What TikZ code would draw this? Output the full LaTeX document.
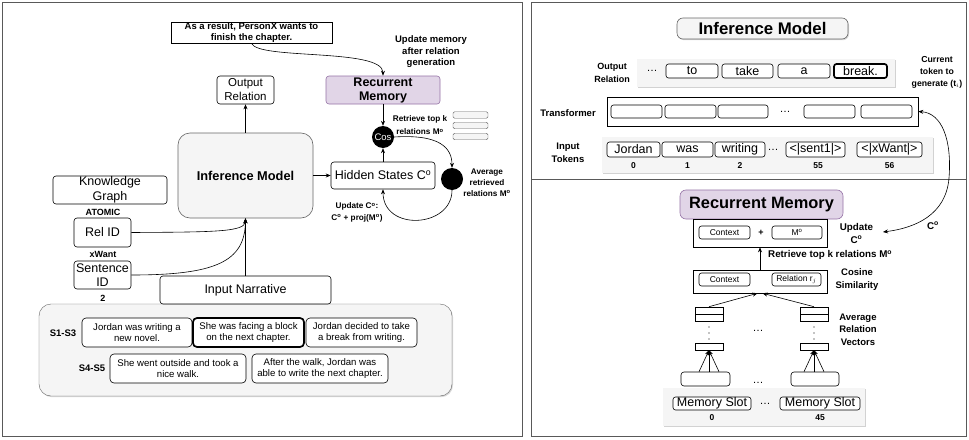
\documentclass[tikz,border=0pt]{standalone}
\usepackage{fontspec}
\setmainfont{Liberation Sans}
\usetikzlibrary{arrows.meta,shadows,calc}
\definecolor{lgray}{HTML}{F5F5F5}
\definecolor{dgray}{HTML}{666666}
\definecolor{purpfill}{HTML}{E1D5E7}
\definecolor{purpdraw}{HTML}{9673A6}
\newcommand{\supo}{\textsuperscript{o}}
\begin{document}
\begin{tikzpicture}[x=1pt,y=-1pt,
  >={Stealth[length=5pt,width=4pt]},
  frame/.style={draw=black!65, line width=0.9pt, drop shadow={shadow xshift=1pt,shadow yshift=-1pt,opacity=0.3}},
  rbox/.style={draw, fill=white, rounded corners=3pt, inner sep=0pt, align=center, line width=0.6pt},
  sbox/.style={draw, fill=white, inner sep=0pt, align=center, line width=0.6pt},
  tbox/.style={rbox, rounded corners=2.5pt, font=\fontsize{12.5}{13}\selectfont},
  ibox/.style={rbox, rounded corners=2.5pt, font=\fontsize{8.5}{10}\selectfont},
  band/.style={fill=lgray, draw=none, inner sep=0pt, drop shadow={shadow xshift=1pt,shadow yshift=-1.2pt,opacity=0.35}},
  lab/.style={font=\bfseries\fontsize{8}{10.5}\selectfont, align=center, inner sep=0pt},
  rlab/.style={font=\bfseries\fontsize{9.5}{12.5}\selectfont, align=center, inner sep=0pt},
  big/.style={font=\fontsize{12.5}{14.5}\selectfont},
  sent/.style={rbox, rounded corners=4pt, font=\fontsize{9.6}{11.3}\selectfont},
  conn/.style={->, line width=0.6pt},
  blob/.style={circle, fill=black, minimum size=22pt, inner sep=0pt},
  barr/.style={draw=dgray, fill=lgray, rounded corners=1.5pt, minimum width=35pt, minimum height=6.5pt, inner sep=0pt},
  cell/.style={draw, fill=white, minimum width=28pt, minimum height=7pt, inner sep=0pt, line width=0.6pt},
]
\useasboundingbox (0,0) rectangle (969,439);
\fill[white] (0,0) rectangle (969,439);

% ================= LEFT PANEL =================
\draw[frame, fill=white] (2,2) rectangle (522,436);

\node[fill=lgray, draw=dgray, rounded corners=12pt, minimum width=413pt, minimum height=92pt,
      drop shadow={shadow xshift=1pt,shadow yshift=-1.2pt,opacity=0.3}] (cont) at (245.5,350) {};

\node[sbox, minimum width=161pt, minimum height=21pt, font=\bfseries\fontsize{9.5}{11}\selectfont] (res) at (251.5,32.5) {As a result, PersonX wants to\\finish the chapter.};
\node[lab, font=\bfseries\fontsize{9.5}{11.5}\selectfont] (updmem) at (431,52) {Update memory\\after relation\\generation};
\node[rbox, fill=purpfill, draw=purpdraw, minimum width=114pt, minimum height=28pt, font=\bfseries\fontsize{12.5}{14}\selectfont] (memL) at (383,90) {Recurrent\\Memory};
\node[rbox, minimum width=57pt, minimum height=28pt, font=\fontsize{11.5}{14}\selectfont] (outrel) at (245.5,90) {Output\\Relation};
\node[rbox, fill=lgray, draw=dgray, rounded corners=12pt, minimum width=135pt, minimum height=85pt, font=\bfseries\fontsize{12.8}{14}\selectfont] (infL) at (245.5,175.5) {Inference Model};
\node[rbox, big, minimum width=104pt, minimum height=27pt] (hid) at (383,175.5) {Hidden States C\supo};
\node[blob, text=white, font=\fontsize{9.5}{11}\selectfont] (cos) at (383,137) {Cos};
\node[blob] (avg) at (452,179) {};
\node[barr] (bar1) at (470.5,115) {};
\node[barr] (bar2) at (470.5,125.5) {};
\node[barr] (bar3) at (470.5,136.5) {};
\node[lab, font=\bfseries\fontsize{8.2}{13}\selectfont] (rtk) at (420,125.5) {Retrieve top k\\relations M\supo};
\node[lab, font=\bfseries\fontsize{8.2}{11}\selectfont] (avglab) at (487,183) {Average\\retrieved\\relations M\supo};
\node[lab, font=\bfseries\fontsize{8.2}{11.5}\selectfont] (updc) at (357,212.5) {Update C\supo:\\C\supo{} + proj(M\supo)};

\node[rbox, big, minimum width=114pt, minimum height=28pt] (kg) at (110,190) {Knowledge\\Graph};
\node[lab, font=\bfseries\fontsize{9}{11}\selectfont] (atomic) at (103,212) {ATOMIC};
\node[rbox, big, minimum width=57pt, minimum height=29pt] (relid) at (102.5,232.5) {Rel ID};
\node[lab, font=\bfseries\fontsize{9}{11}\selectfont] (xwant) at (103,254) {xWant};
\node[rbox, big, minimum width=57pt, minimum height=28pt] (sentid) at (102.5,275) {Sentence\\ID};
\node[lab, font=\bfseries\fontsize{9}{11}\selectfont] (two) at (103,298) {2};
\node[rbox, big, minimum width=171pt, minimum height=28pt] (inpn) at (245.5,290) {Input Narrative};

\node[lab, font=\bfseries\fontsize{9.5}{11}\selectfont] (s13) at (63,333) {S1-S3};
\node[lab, font=\bfseries\fontsize{9.5}{11}\selectfont] (s45) at (92,368) {S4-S5};
\node[sent, minimum width=110pt, minimum height=29pt] (sa) at (137,332.5) {Jordan was writing a\\new novel.};
\node[sent, minimum width=111pt, minimum height=29pt, line width=1.7pt] (sb) at (248.5,332.5) {She was facing a block\\on the next chapter.};
\node[sent, minimum width=111pt, minimum height=29pt] (sc) at (361.5,332.5) {Jordan decided to take\\a break from writing.};
\node[sent, minimum width=136pt, minimum height=29pt] (sd) at (178,368.5) {She went outside and took a\\nice walk.};
\node[sent, minimum width=136pt, minimum height=29pt] (se) at (320,368.5) {After the walk, Jordan was\\able to write the next chapter.};

\draw[conn] (res.south) .. controls (258,60) and (383,48) .. (memL.north);
\draw[conn] (infL.north) -- (outrel.south);
\draw[conn] (infL.east) -- (hid.west);
\draw[conn] (memL.south) -- (cos.north);
\draw[conn] (hid.north) -- (cos.south);
\draw[conn] (cos.east) .. controls (440,134) and (452,148) .. (avg.north);
\draw[conn] (avg.south) .. controls (452,228) and (383,232) .. (hid.south);
\draw[conn] (relid.east) .. controls (215,232) and (245,232) .. (infL.south);
\draw[conn] (sentid.east) .. controls (215,275) and (245,262) .. (infL.south);
\draw[conn] (inpn.north) -- (infL.south);

% ================= RIGHT PANEL =================
\draw[frame, fill=white] (531,2) rectangle (966,436);
\draw[draw=black!65, line width=0.9pt] (531,179) -- (966,179);

\node[rbox, fill=lgray, draw=dgray, rounded corners=6pt, minimum width=171pt, minimum height=21pt,
      font=\bfseries\fontsize{16.8}{18}\selectfont, drop shadow={shadow xshift=1pt,shadow yshift=-1.2pt,opacity=0.3}] (infR) at (762.5,28.5) {Inference Model};

\node[band, minimum width=258pt, minimum height=28pt] (outband) at (766,73) {};
\node[rlab, font=\bfseries\fontsize{9}{13}\selectfont] (outlab) at (612,73) {Output\\Relation};
\node[font=\fontsize{11}{13}\selectfont, inner sep=0pt] (d1) at (652,71) {\dots};
\node[tbox, minimum width=52pt, minimum height=14pt] (to) at (692,71) {to};
\node[tbox, minimum width=51pt, minimum height=14pt] (take) at (747.5,71) {take};
\node[tbox, minimum width=52pt, minimum height=14pt] (a) at (804,71) {a};
\node[tbox, minimum width=53pt, minimum height=14pt, line width=1.7pt] (brk) at (860.5,71) {break.};
\node[rlab, font=\bfseries\fontsize{8.7}{12}\selectfont] (cur) at (937,72) {Current\\token to\\generate (t$_i$)};

\node[sbox, minimum width=311pt, minimum height=29pt] (trans) at (762.5,111.5) {};
\node[rlab] (translab) at (568,113) {Transformer};
\node[ibox, minimum width=51pt, minimum height=13pt] (h1) at (636.5,111.5) {};
\node[ibox, minimum width=51pt, minimum height=13pt] (h2) at (690.5,111.5) {};
\node[ibox, minimum width=50pt, minimum height=13pt] (h3) at (743,111.5) {};
\node[font=\fontsize{11}{13}\selectfont, inner sep=0pt] (d2) at (785,112) {\dots};
\node[ibox, minimum width=51pt, minimum height=13pt] (h4) at (829.5,111.5) {};
\node[ibox, minimum width=51pt, minimum height=13pt] (h5) at (886.5,111.5) {};

\node[band, minimum width=331pt, minimum height=36pt] (inband) at (767.5,155) {};
\node[rlab, font=\bfseries\fontsize{9.5}{13}\selectfont] (inlab) at (568,153) {Input\\Tokens};
\node[tbox, minimum width=53pt, minimum height=15pt] (t0) at (633.5,149.5) {Jordan};
\node[tbox, minimum width=51pt, minimum height=15pt] (t1) at (687.5,149.5) {was};
\node[tbox, minimum width=50pt, minimum height=15pt] (t2) at (740,149.5) {writing};
\node[font=\fontsize{11}{13}\selectfont, inner sep=0pt] (d3) at (773,150) {\dots};
\node[tbox, minimum width=59pt, minimum height=15pt] (t55) at (815.5,149.5) {<|sent1|>};
\node[tbox, minimum width=65pt, minimum height=15pt] (t56) at (889.5,149.5) {<|xWant|>};
\node[rlab, font=\bfseries\fontsize{8.5}{10}\selectfont] at (633.5,166) {0};
\node[rlab, font=\bfseries\fontsize{8.5}{10}\selectfont] at (687.5,166) {1};
\node[rlab, font=\bfseries\fontsize{8.5}{10}\selectfont] at (740,166) {2};
\node[rlab, font=\bfseries\fontsize{8.5}{10}\selectfont] at (818,166) {55};
\node[rlab, font=\bfseries\fontsize{8.5}{10}\selectfont] at (889.5,166) {56};

% Recurrent memory (right)
\node[rbox, fill=purpfill, draw=purpdraw, rounded corners=6pt, minimum width=163pt, minimum height=29pt,
      font=\bfseries\fontsize{16.4}{18}\selectfont] (memR) at (761.5,204.5) {Recurrent Memory};
\node[sbox, minimum width=134pt, minimum height=28pt] (addbox) at (760,233) {};
\node[ibox, minimum width=51pt, minimum height=13pt] (ctx1) at (724.5,232.5) {Context};
\node[font=\bfseries\fontsize{9}{10}\selectfont, inner sep=0pt] (plus) at (761,233) {+};
\node[ibox, minimum width=50pt, minimum height=13pt] (mo) at (797,232.5) {M\supo};
\node[rlab, font=\bfseries\fontsize{9.8}{13}\selectfont] (updR) at (856.5,233.5) {Update\\C\supo};
\coordinate (updtip) at (883,232);
\node[rlab, font=\bfseries\fontsize{9.8}{11}\selectfont] (colab) at (933,226) {C\supo};

\node[sbox, minimum width=134pt, minimum height=23pt] (cosbox) at (760,281.5) {};
\node[ibox, minimum width=51pt, minimum height=13pt] (ctx2) at (724.5,279.5) {Context};
\node[ibox, minimum width=49pt, minimum height=13pt] (rel) at (796.5,279.5) {Relation r$_j$};
\node[rlab, font=\bfseries\fontsize{9.5}{13}\selectfont] (coslab) at (857,280) {Cosine\\Similarity};
\node[rlab, font=\bfseries\fontsize{9.8}{11}\selectfont, anchor=west] (rtkR) at (768,255) {Retrieve top k relations M\supo};
\draw[conn] (cosbox.north) -- (addbox.south);

% vectors
\node[cell] (la) at (709,310.5) {};
\node[cell] (lb) at (709,317.5) {};
\node[cell] (lc) at (709,346.5) {};
\node[cell] (ra) at (814,310.5) {};
\node[cell] (rb) at (814,317.5) {};
\node[cell] (rc) at (814,346.5) {};
\foreach \yy in {327,333,339} {
  \fill (709,\yy) circle (0.7pt);
  \fill (814,\yy) circle (0.7pt);
}
\node[font=\fontsize{11}{13}\selectfont, inner sep=0pt] (d4) at (758,331) {\dots};
\node[rlab, font=\bfseries\fontsize{9.5}{12.5}\selectfont] (avR) at (858,329.5) {Average\\Relation\\Vectors};
\draw[conn] (la.north) -- ($(cosbox.south)+(-2.5,0)$);
\draw[conn] (ra.north) -- ($(cosbox.south)+(2.5,0)$);

\node[rbox, minimum width=49pt, minimum height=14pt] (slL) at (705.5,379) {};
\node[rbox, minimum width=48pt, minimum height=14pt] (slR) at (815,379) {};
\node[font=\fontsize{11}{13}\selectfont, inner sep=0pt] (d5) at (758,383) {\dots};
\foreach \dx in {-10,0,10} {
  \draw[conn] ($(slL.north)+(\dx+3.5,0)$) -- (lc.south);
  \draw[conn] ($(slR.north)+(\dx-1,0)$) -- (rc.south);
}

\node[band, minimum width=202pt, minimum height=38pt] (memband) at (764,407) {};
\node[tbox, font=\fontsize{12.5}{13}\selectfont, minimum width=78pt, minimum height=13pt] (ms0) at (712,403.5) {Memory Slot};
\node[font=\fontsize{11}{13}\selectfont, inner sep=0pt] (d6) at (765,404) {\dots};
\node[tbox, font=\fontsize{12.5}{13}\selectfont, minimum width=80pt, minimum height=13pt] (ms45) at (820,403.5) {Memory Slot};
\node[rlab, font=\bfseries\fontsize{8.5}{10}\selectfont] at (712,418) {0};
\node[rlab, font=\bfseries\fontsize{8.5}{10}\selectfont] at (820,418) {45};

\draw[{Stealth[length=5pt,width=4pt]}-{Stealth[length=5pt,width=4pt]}, line width=0.6pt]
  (updtip) .. controls (915,228) and (946,215) .. (949,178)
  .. controls (952,140) and (942,113) .. (trans.east);
\end{tikzpicture}
\end{document}
